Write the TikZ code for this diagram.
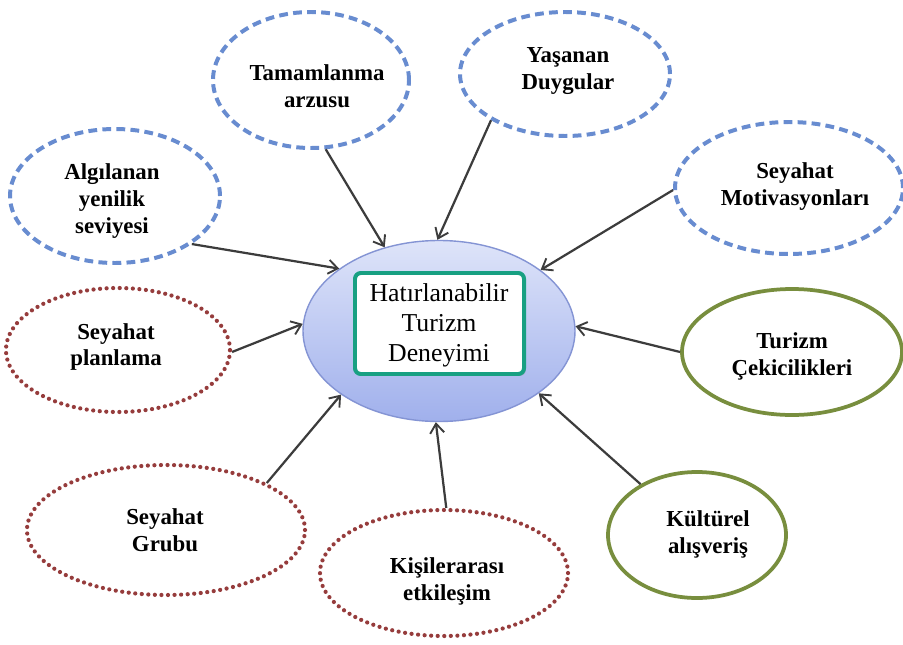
\documentclass[tikz,border=0pt]{standalone}
\usepackage{fontspec}
\setmainfont{Liberation Serif}
\usetikzlibrary{shapes.geometric,arrows.meta,shadows}

\definecolor{dashblue}{RGB}{104,140,208}
\definecolor{dotred}{RGB}{150,60,60}
\definecolor{olivering}{RGB}{120,142,62}
\definecolor{arrowgray}{RGB}{60,60,60}
\definecolor{hubtop}{RGB}{222,228,249}
\definecolor{hubbottom}{RGB}{160,176,236}
\definecolor{hubline}{RGB}{132,148,212}
\definecolor{tealframe}{RGB}{24,160,130}

\begin{document}
\begin{tikzpicture}[x=0.03cm,y=-0.03cm,
  oval/.style 2 args={ellipse, minimum width={#1*0.03cm}, minimum height={#2*0.03cm}, inner sep=0pt},
  dashring/.style={draw=dashblue, line width=3.4pt, dash pattern=on 7.5pt off 4.5pt},
  dotring/.style={draw=dotred, line width=3.6pt, line cap=round, dash pattern=on 0pt off 5.6pt},
  solidring/.style={draw=olivering, line width=3.2pt},
  lbl/.style={font=\bfseries\fontsize{19.5}{23}\selectfont, align=center, inner sep=0pt},
  link/.style={draw=arrowgray, line width=1.9pt, -{Straight Barb[length=8pt,width=12pt,line width=1.6pt]}}
]
\fill[white] (0,0) rectangle (903,644);
\useasboundingbox (0,0) rectangle (903,644);

% central hub
\node[oval={272}{181}, draw=hubline, line width=1.2pt, top color=hubtop, bottom color=hubbottom] (hub) at (439,331) {};
\node[rectangle, rounded corners=5pt, draw=tealframe, line width=3.4pt, fill=white,
      minimum width={169*0.03cm}, minimum height={101*0.03cm},
      drop shadow={shadow xshift=1.5pt, shadow yshift=-1.5pt, opacity=0.45}] (core) at (439.5,323.5) {};
\node[align=center, inner sep=0pt, font=\fontsize{22}{25.5}\selectfont] (coretext) at (439,325)
  {Hatırlanabilir\\Turizm\\Deneyimi};

% surrounding factors
\node[oval={196}{136}, dashring] (A) at (311,80) {};
\node[lbl] (tA) at (317,86) {Tamamlanma\\arzusu};

\node[oval={210}{124}, dashring] (B) at (565,74) {};
\node[lbl] (tB) at (568,71) {Yaşanan\\Duygular};

\node[oval={228}{132}, dashring] (C) at (789,188) {};
\node[lbl] (tC) at (795,187) {Seyahat\\Motivasyonları};

\node[oval={210}{134}, dashring] (D) at (115,196) {};
\node[lbl] (tD) at (112,201) {Algılanan\\yenilik\\seviyesi};

\node[oval={224}{124}, dotring] (E) at (118,350) {};
\node[lbl] (tE) at (116,347) {Seyahat\\planlama};

\node[oval={220}{126}, solidring] (F) at (792,352) {};
\node[lbl] (tF) at (792,356) {Turizm\\Çekicilikleri};

\node[oval={278}{130}, dotring] (G) at (166,530) {};
\node[lbl] (tG) at (165,530) {Seyahat\\Grubu};

\node[oval={248}{126}, dotring] (H) at (444,573) {};
\node[lbl] (tH) at (447,581) {Kişilerarası\\etkileşim};

\node[oval={178}{126}, solidring] (I) at (697,535) {};
\node[lbl] (tI) at (708,534) {Kültürel\\alışveriş};

% connectors into the hub
\draw[link] (A.-78.2) -- (hub.123.7);
\draw[link] (B.212.8) -- (hub.91);
\draw[link] (C.181) -- (hub.31.3);
\draw[link] (D.-32.2) -- (hub.148);
\draw[link] (E.-1) -- (hub.177.5);
\draw[link] (F.180) -- (hub.2.5);
\draw[link] (G.25.8) -- (hub.213.7);
\draw[link] (H.88) -- (hub.268.7);
\draw[link] (I.138.7) -- (hub.-32.3);
\end{tikzpicture}
\end{document}
